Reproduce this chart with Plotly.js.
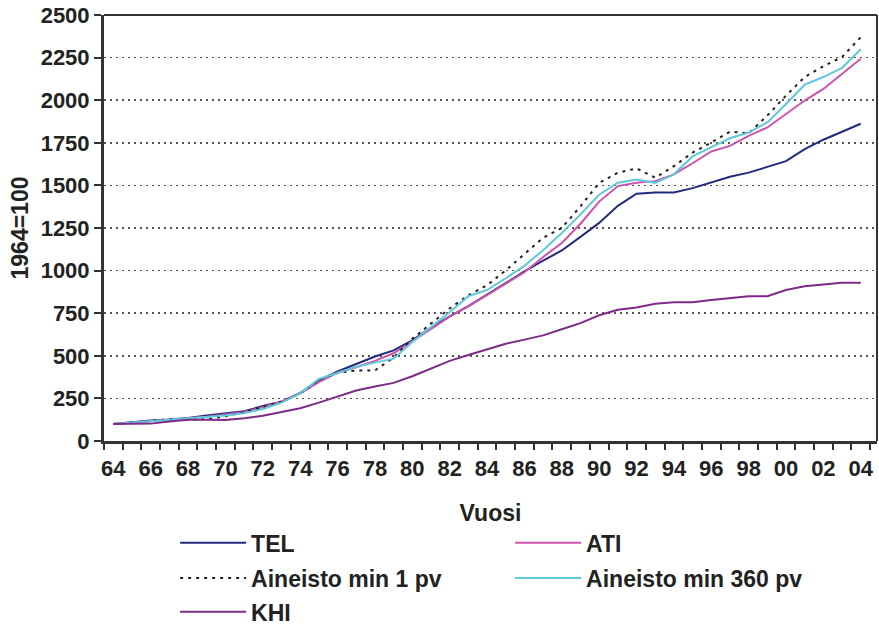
<!DOCTYPE html>
<html>
<head>
<meta charset="utf-8">
<script src="https://cdn.plot.ly/plotly-3.0.1.min.js"></script>
<style>html,body{margin:0;padding:0;background:#fff}#chart{width:879px;height:630px}</style>
</head>
<body>
<div id="chart"></div>
<script>
var years = [1964,1965,1966,1967,1968,1969,1970,1971,1972,1973,1974,1975,1976,1977,1978,1979,1980,1981,1982,1983,1984,1985,1986,1987,1988,1989,1990,1991,1992,1993,1994,1995,1996,1997,1998,1999,2000,2001,2002,2003,2004];

var tel = [100,112,120,126,135,150,163,175,205,230,282,355,408,453,496,532,591,666,732,792,861,926,995,1058,1118,1198,1280,1380,1451,1458,1458,1484,1519,1551,1575,1608,1642,1713,1768,1815,1862];

var ati = [100,110,118,124,132,142,155,170,198,232,280,345,402,433,470,515,585,660,730,790,858,924,990,1080,1162,1275,1405,1496,1515,1525,1565,1630,1699,1732,1791,1840,1919,1998,2066,2155,2243];

var min1pv = [100,110,118,128,124,128,145,170,200,230,278,360,400,414,414,490,600,690,778,855,914,1001,1099,1192,1250,1377,1515,1574,1600,1545,1613,1692,1752,1816,1805,1910,2027,2136,2199,2254,2370];

var min360pv = [100,108,117,125,133,140,150,163,188,225,280,364,398,435,460,483,581,668,755,850,886,955,1028,1120,1220,1330,1445,1516,1535,1515,1565,1670,1723,1777,1810,1870,1978,2091,2136,2190,2299];

var khi = [100,100,102,115,125,125,123,133,148,170,192,225,262,296,320,341,380,424,470,505,540,571,595,620,656,692,738,770,783,805,814,814,828,840,850,850,886,908,918,928,928];

var tickYears = [1964,1966,1968,1970,1972,1974,1976,1978,1980,1982,1984,1986,1988,1990,1992,1994,1996,1998,2000,2002,2004];
var tickLabels = ['64','66','68','70','72','74','76','78','80','82','84','86','88','90','92','94','96','98','00','02','04'];
var yTicks = [0,250,500,750,1000,1250,1500,1750,2000,2250,2500];

var FONT = 'Liberation Sans, Arial, sans-serif';

var traces = [
  {x: years, y: tel, name: 'TEL', type: 'scatter', mode: 'lines', legend: 'legend',
   line: {color: '#232a7c', width: 2}},
  {x: years, y: ati, name: 'ATI', type: 'scatter', mode: 'lines', legend: 'legend',
   line: {color: '#cc52ae', width: 2}},
  {x: years, y: min1pv, name: 'Aineisto min 1 pv', type: 'scatter', mode: 'lines', legend: 'legend2',
   line: {color: '#222222', width: 2, dash: '3px,5px'}},
  {x: years, y: min360pv, name: 'Aineisto min 360 pv', type: 'scatter', mode: 'lines', legend: 'legend2',
   line: {color: '#5ec9db', width: 2}},
  {x: years, y: khi, name: 'KHI', type: 'scatter', mode: 'lines', legend: 'legend3',
   line: {color: '#7e2a89', width: 2}}
];

var legBase = {
  xanchor: 'left', yanchor: 'middle', orientation: 'h',
  entrywidth: 254, entrywidthmode: 'pixels', itemwidth: 66,
  bgcolor: 'rgba(0,0,0,0)', font: {family: FONT, size: 23, color: '#222', weight: 'bold'},
  itemclick: false, itemdoubleclick: false
};

var layout = {
  width: 879, height: 630,
  margin: {l: 104, r: 2, t: 15, b: 189, autoexpand: false},
  paper_bgcolor: '#ffffff', plot_bgcolor: '#ffffff',
  font: {family: FONT, size: 22, color: '#222', weight: 'bold'},
  showlegend: true,
  xaxis: {
    range: [1963.5, 2004.87], type: 'linear',
    tickmode: 'array', tickvals: tickYears, ticktext: tickLabels,
    ticks: 'outside', ticklen: 6, tickcolor: 'rgba(0,0,0,0)', tickwidth: 2,
    minor: {tickmode: 'linear', tick0: 1963.5, dtick: 1, ticks: 'outside', ticklen: 6, tickwidth: 2, tickcolor: '#333', showgrid: false},
    tickfont: {family: FONT, size: 22, color: '#222', weight: 'bold'},
    showgrid: false, zeroline: false,
    showline: true, linecolor: '#333', linewidth: 3,
    title: {text: 'Vuosi', standoff: 25, font: {family: FONT, size: 23, color: '#222', weight: 'bold'}},
    fixedrange: true
  },
  yaxis: {
    range: [0, 2500], tickmode: 'array', tickvals: yTicks,
    ticks: 'outside', ticklen: 7, tickwidth: 2, tickcolor: '#333',
    tickfont: {family: FONT, size: 22, color: '#222', weight: 'bold'},
    showgrid: true, gridcolor: '#555', gridwidth: 1.5, griddash: '2px,4px',
    zeroline: false,
    showline: true, linecolor: '#333', linewidth: 3,
    title: {text: '1964=100', standoff: 6, font: {family: FONT, size: 23, color: '#222', weight: 'bold'}},
    fixedrange: true
  },
  legend: Object.assign({}, legBase, {x: 0.092, y: -0.239}),
  legend2: Object.assign({}, legBase, {x: 0.092, y: -0.322}),
  legend3: Object.assign({}, legBase, {x: 0.092, y: -0.401}),
  shapes: [
    {type: 'line', xref: 'paper', yref: 'paper', x0: 0, x1: 1, y0: 1, y1: 1, line: {color: '#333', width: 2}},
    {type: 'line', xref: 'paper', yref: 'paper', x0: 1, x1: 1, y0: 0, y1: 1, line: {color: '#333', width: 2}}
  ]
};

Plotly.newPlot('chart', traces, layout, {displayModeBar: false, staticPlot: true});
</script>
</body>
</html>
